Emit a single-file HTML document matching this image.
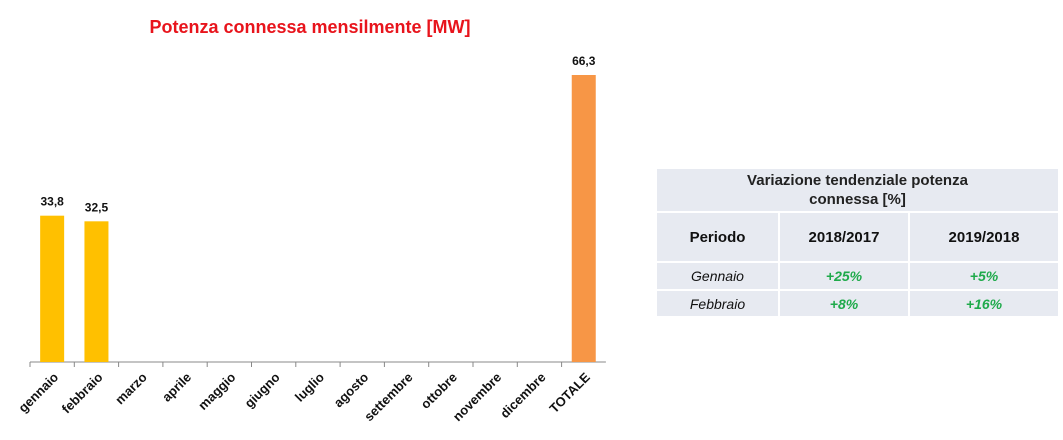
<!DOCTYPE html>
<html><head><meta charset="utf-8"><style>
body{margin:0;width:1063px;height:440px;background:#fff;overflow:hidden;font-family:"Liberation Sans",sans-serif;position:relative}
#title{position:absolute;left:0;width:620px;top:17px;text-align:center;color:#e8141c;font-size:18px;font-weight:bold}
table{position:absolute;left:655px;top:167px;border-collapse:separate;border-spacing:2px;font-size:14px;color:#111}
td{background:#e7eaf1;text-align:center;padding:0}
.g{color:#1faa4b;font-weight:bold;font-style:italic}
</style></head><body>
<div id="title">Potenza connessa mensilmente [MW]</div>
<svg id="chart" width="620" height="440" style="position:absolute;left:0;top:0"></svg>
<table>
<tr><td colspan="3" style="height:42px;width:399px;font-weight:bold;font-size:15px;line-height:19px;color:#222">Variazione tendenziale potenza<br>connessa [%]</td></tr>
<tr style="height:48px;font-weight:bold;font-size:15px"><td style="width:121px">Periodo</td><td style="width:128px">2018/2017</td><td style="width:148px">2019/2018</td></tr>
<tr style="height:26px"><td style="font-style:italic">Gennaio</td><td class="g">+25%</td><td class="g">+5%</td></tr>
<tr style="height:25px"><td style="font-style:italic">Febbraio</td><td class="g">+8%</td><td class="g">+16%</td></tr>
</table>
<script>
const categories=["gennaio","febbraio","marzo","aprile","maggio","giugno","luglio","agosto","settembre","ottobre","novembre","dicembre","TOTALE"];
const values=[33.8,32.5,null,null,null,null,null,null,null,null,null,null,66.3];
const labels=["33,8","32,5","","","","","","","","","","","66,3"];
const NS="http://www.w3.org/2000/svg";
const svg=document.getElementById("chart");
const x0=30,step=44.3,base=362,scale=287/66.3;
const x=i=>x0+step*i;
const y=v=>base-v*scale;
function mk(t,a){const e=document.createElementNS(NS,t);for(const k in a)e.setAttribute(k,a[k]);svg.appendChild(e);return e;}
const ax=mk("line",{x1:x0,x2:x0+step*categories.length,y1:base,y2:base,stroke:"#888"});


categories.forEach((c,i)=>{
 const tk=mk("line",{x1:x(i),x2:x(i),y1:base,y2:base+5,stroke:"#888"});
 
 
 const cx=x(i)+step/2;
 const t=mk("text",{x:0,y:0,"font-size":13,"font-weight":"bold","text-anchor":"end",fill:"#111",transform:`translate(${cx+7},${base+16}) rotate(-45)`});
 t.textContent=c;
 
 
 const v=values[i];
 if(v!=null){
  const b=mk("rect",{x:cx-12,y:y(v),width:24,height:base-y(v),fill:i==categories.length-1?"#f79646":"#ffc000"});
  
  
  const l=mk("text",{x:cx,y:y(v)-10,"font-size":12,"font-weight":"bold","text-anchor":"middle",fill:"#111"});
  l.textContent=labels[i];
  
  
 }
});
</script>
</body></html>
